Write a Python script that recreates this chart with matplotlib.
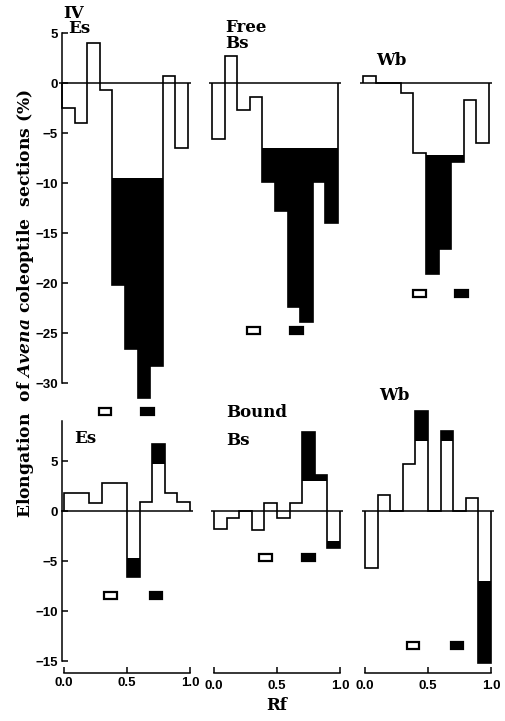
import numpy as np
import matplotlib.pyplot as plt
from matplotlib.patches import Rectangle

plt.rcParams['font.family'] = 'DejaVu Serif'
plt.rcParams['font.weight'] = 'bold'
plt.rcParams['mathtext.fontset'] = 'custom'
plt.rcParams['mathtext.it'] = 'DejaVu Serif:italic:bold'
plt.rcParams['mathtext.rm'] = 'DejaVu Serif:bold'

rf_edges = np.linspace(0, 1, 11)

# free fractions (top row): Es, Bs, Wb
free_es = [-2.5, -4.0, 4.0, -0.7, -20.2, -26.6, -31.5, -28.3, 0.7, -6.5]
free_bs = [-5.6, 2.7, -2.7, -1.4, -9.9, -12.8, -22.4, -23.9, -9.9, -14.0]
free_wb = [0.7, 0.0, 0.0, -1.0, -7.0, -19.1, -16.6, -7.9, -1.7, -6.0]
# bound fractions (bottom row)
bound_es = [1.8, 1.8, 0.8, 2.8, 2.8, -6.6, 0.9, 6.7, 1.8, 0.9]
bound_bs = [-1.8, -0.7, 0.0, -1.9, 0.8, -0.7, 0.8, 7.9, 3.6, -3.7]
bound_wb = [-5.7, 1.6, 0.0, 4.7, 10.0, 0.0, 8.0, 0.0, 1.3, -15.2]

# bars beyond +-limit are shaded black
free_limits = [9.5, 6.5, 7.2]
bound_limits = [4.7, 3.0, 7.0]

# Rf of the marker substances (open, filled) and the level they sit at
free_marks_rf = [(0.34, 0.68), (0.33, 0.67), (0.45, 0.78)]
free_marks_y = [-32.8, -24.7, -21.0]
bound_marks_rf = [(0.37, 0.73), (0.41, 0.75), (0.38, 0.73)]
bound_marks_y = [-8.4, -4.6, -13.4]

W, H = 505, 721
fig = plt.figure(figsize=(W/100, H/100), dpi=100)

def px_axes(x0, top, w, bottom):
    return fig.add_axes([x0/W, 1-bottom/H, w/W, (bottom-top)/H])

tickfont = dict(family='Liberation Sans', weight='bold', size=9.5)

def draw_panel(ax, vals, lim, marks_rf, mark_y):
    vals = np.array(vals)
    over = np.where(vals > lim, vals - lim, 0)
    under = np.where(vals < -lim, vals + lim, 0)
    ax.bar(rf_edges[:-1], over, bottom=lim, width=0.1, align='edge', color='black', lw=0)
    ax.bar(rf_edges[:-1], under, bottom=-lim, width=0.1, align='edge', color='black', lw=0)
    ax.stairs(vals, rf_edges, baseline=0, color='black', lw=1.2)
    ax.axhline(0, color='black', lw=1.1)
    # marker boxes
    ax.add_patch(Rectangle((marks_rf[0]-0.05, mark_y-0.35), 0.1, 0.7,
                           facecolor='white', edgecolor='black', lw=1.6))
    ax.add_patch(Rectangle((marks_rf[1]-0.05, mark_y-0.35), 0.1, 0.7,
                           facecolor='black', edgecolor='black', lw=1.6))
    ax.set_xlim(-0.02, 1.02)
    ax.patch.set_visible(False)
    for s in ax.spines.values():
        s.set_visible(False)
    ax.tick_params(left=False, bottom=False, labelleft=False, labelbottom=False)

x_left = [62, 212, 363]
free_data = [free_es, free_bs, free_wb]
bound_data = [bound_es, bound_bs, bound_wb]

# top row: 0 at y=83, 10 px per unit
for i in range(3):
    ax = px_axes(x_left[i] - 0.02*126, 83 - 55, 126*1.04, 83 + 340)
    draw_panel(ax, free_data[i], free_limits[i], free_marks_rf[i], free_marks_y[i])
    ax.set_ylim(-34, 5.5)
    if i == 0:
        ax.spines['left'].set_visible(True)
        ax.spines['left'].set_bounds(-30, 5)
        ax.spines['left'].set_position(('data', 0))
        ax.spines['left'].set_linewidth(1.1)
        ax.set_yticks(np.arange(-30, 6, 5))
        ax.tick_params(left=True, labelleft=True, direction='in', length=4, width=1.1, pad=3)
        for t in ax.get_yticklabels():
            t.set(**tickfont)

# bottom row: 0 at y=511, 10 px per unit
for i in range(3):
    ax = px_axes(x_left[i] + 2 - 0.02*126, 511 - 105, 126*1.04, 511 + 162)
    draw_panel(ax, bound_data[i], bound_limits[i], bound_marks_rf[i], bound_marks_y[i])
    ax.set_ylim(-16.2, 10.5)
    ax.spines['bottom'].set_visible(True)
    ax.spines['bottom'].set_bounds(0, 1)
    ax.spines['bottom'].set_linewidth(1.1)
    ax.set_xticks([0, 0.5, 1.0])
    ax.set_xticklabels(['0.0', '0.5', '1.0'])
    ax.tick_params(bottom=True, labelbottom=True, direction='in', length=4, width=1.1, pad=5)
    for t in ax.get_xticklabels():
        t.set(**tickfont)
    if i == 0:
        ax.spines['left'].set_visible(True)
        ax.spines['left'].set_bounds(-15, 9)
        ax.spines['left'].set_position(('data', -0.015))
        ax.spines['left'].set_linewidth(1.1)
        ax.set_yticks(np.arange(-15, 6, 5))
        ax.tick_params(left=True, labelleft=True, direction='in', length=4, width=1.1, pad=3)
        for t in ax.get_yticklabels():
            t.set(**tickfont)

def label(x, y, s, **kw):
    fig.text(x/W, 1 - y/H, s, fontsize=12, fontweight='bold', **kw)

label(63, 5, 'IV', va='top')
label(68, 20, 'Es', va='top')
label(225, 19, 'Free', va='top')
label(225, 35, 'Bs', va='top')
label(376, 52, 'Wb', va='top')
label(74, 430, 'Es', va='top')
label(226, 404, 'Bound', va='top')
label(226, 432, 'Bs', va='top')
label(379, 387, 'Wb', va='top')
label(277, 706, 'Rf', ha='center', va='center')
fig.text(26/W, 1 - 303/H, r'Elongation  of $\mathit{Avena}$ coleoptile  sections (%)',
         rotation=90, ha='center', va='center', fontsize=12.3, fontweight='bold')

fig.savefig('out.png', dpi=100, facecolor='white')
